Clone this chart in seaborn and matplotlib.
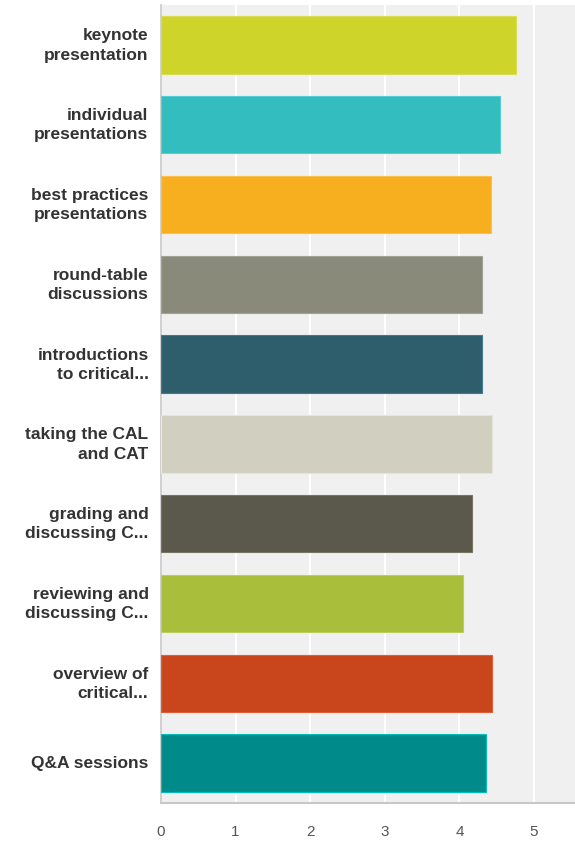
import matplotlib
matplotlib.use("Agg")
import matplotlib.pyplot as plt
import matplotlib.transforms as mtransforms
import seaborn as sns
import pandas as pd
import colorsys

categories = ["keynote\npresentation", "individual\npresentations", "best practices\npresentations",
              "round-table\ndiscussions", "introductions\nto critical...", "taking the CAL\nand CAT",
              "grading and\ndiscussing C...", "reviewing and\ndiscussing C...", "overview of\ncritical...",
              "Q&A sessions"]
values = [4.76, 4.55, 4.42, 4.30, 4.30, 4.44, 4.17, 4.05, 4.44, 4.36]
colors = ["#cfd42a", "#33bdbf", "#f7ae1f", "#898a7a", "#2e5e6b", "#d0cfc0",
          "#5b594b", "#a9bf3b", "#c9451c", "#008b8a"]
xticks = [0, 1, 2, 3, 4, 5]

df = pd.DataFrame({"cat": categories, "val": values})

sns.set_style("white")
plt.rcParams['font.family'] = ['Liberation Sans', 'DejaVu Sans']

fig = plt.figure(figsize=(5.75, 8.42), dpi=100)
ax = fig.add_axes([161/575, 39/842, 1 - 161/575, (803-5)/842])
ax.set_facecolor("#f0f0f0")

sns.barplot(data=df, y="cat", x="val", hue="cat", palette=colors, orient="h",
            width=0.72, legend=False, ax=ax, saturation=1, linewidth=0.8)


def lighter(c, amt=0.1):
    h, l, s = colorsys.rgb_to_hls(*matplotlib.colors.to_rgb(c))
    return colorsys.hls_to_rgb(h, min(1, l + amt), s)


for p, c in zip(ax.patches, colors):
    p.set_edgecolor(lighter(c))
    p.set_zorder(3)

ax.set_xlim(0, 5.55)
ax.set_ylim(9.5, -0.5)
ax.set_xticks(xticks)
ax.set_xticklabels([str(t) for t in xticks], fontsize=11, color="#555555")
ax.xaxis.grid(True, color="white", linewidth=1.5)
ax.set_axisbelow(True)
ax.set_xlabel("")
ax.set_ylabel("")
ax.tick_params(axis="both", length=0)
ax.tick_params(axis="x", pad=16)
ax.tick_params(axis="y", pad=9)
for lab in ax.get_yticklabels():
    lab.set_fontweight("bold")
    lab.set_fontsize(12.5)
    lab.set_color("#333333")
    lab.set_linespacing(1.35)
    dy = 3 if "\n" in lab.get_text() else 1
    lab.set_transform(lab.get_transform() +
                      mtransforms.ScaledTranslation(0, dy / 100, fig.dpi_scale_trans))

for s in ["top", "right"]:
    ax.spines[s].set_visible(False)
ax.spines["left"].set_color("#c8c8c8")
ax.spines["bottom"].set_color("#c8c8c8")
ax.spines["left"].set_linewidth(1.2)
ax.spines["bottom"].set_linewidth(1.5)

fig.savefig("out.png", dpi=100)
